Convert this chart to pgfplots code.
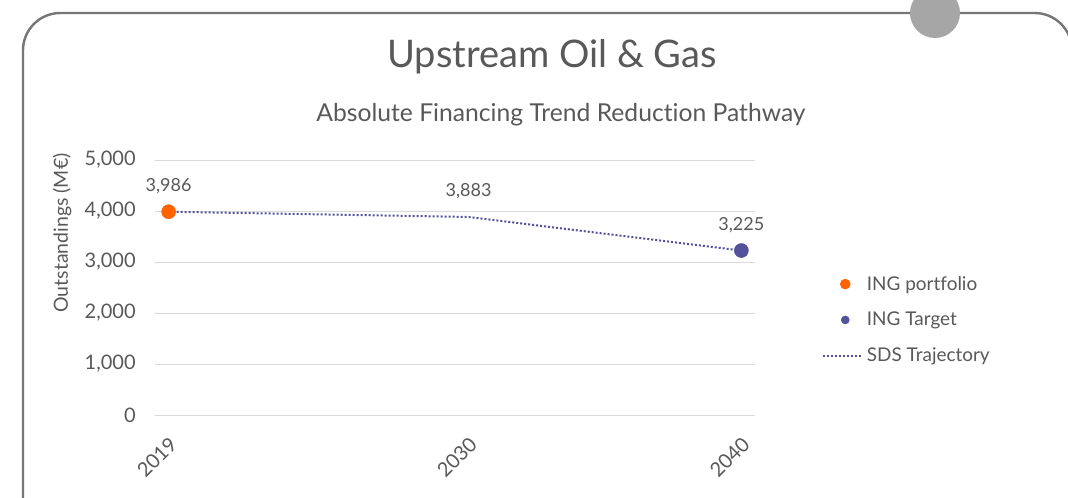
\documentclass[border=0pt]{standalone}
\usepackage{fontspec}
\setmainfont{Lato}[Ligatures={NoCommon}]
\usepackage{pgfplots}
\pgfplotsset{compat=1.18}
\definecolor{txt}{HTML}{595959}
\definecolor{ingorange}{HTML}{FF6200}
\definecolor{ingpurple}{HTML}{525199}
\definecolor{gridc}{HTML}{D9D9D9}
\definecolor{framec}{HTML}{767676}
\definecolor{circc}{HTML}{A6A6A6}
\begin{document}
\begin{tikzpicture}
\begin{scope}[x=0.75pt,y=0.75pt]
\useasboundingbox (0,0) rectangle (1068,497);
\fill[white] (0,0) rectangle (1068,497);
\begin{scope}
\clip (0,0) rectangle (1068,497);
\draw[framec, line width=1.8pt, rounded corners=28pt] (23,-40) |- (1072,484) -- (1072,-40);
\fill[circc] (935,484) circle (25);
\end{scope}
\node[text=txt, font=\fontsize{28.5}{32}\selectfont] at (552,440) {Upstream Oil \& Gas};
\node[text=txt, font=\fontsize{18.5}{22}\selectfont] at (561,382) {Absolute Financing Trend Reduction Pathway};
\node[rotate=90, text=txt, font=\fontsize{14.6}{17}\selectfont] at (62,264) {Outstandings (M€)};
\end{scope}
\begin{axis}[
  scale only axis, width=450pt, height=191.25pt,
  at={(116.25pt,61.5pt)}, anchor=south west,
  xmin=2018.5, xmax=2040.5, ymin=0, ymax=5000,
  axis line style={draw=none}, tick style={draw=none},
  xtick={2019,2030,2040}, xticklabels={2019,2030,2040},
  ytick={0,1000,2000,3000,4000,5000},
  ymajorgrids, major grid style={gridc, line width=0.75pt},
  ticklabel style={font=\fontsize{15}{18}\selectfont, text=txt},
  yticklabel style={/pgf/number format/1000 sep={,}, /pgf/number format/assume math mode=true, xshift=-11pt},
  xticklabel style={xshift=6pt, yshift=-17pt, rotate=45, anchor=east},
  legend style={at={(1.105,0.373)}, anchor=west, draw=none, fill=none,
    font=\fontsize{14.2}{17}\selectfont, text=txt, row sep=11pt},
  legend cell align=left,
  clip=false,
]
\addlegendimage{legend image code/.code={\path (0,0) (30pt,0); \fill[ingorange] (16.5pt,0) circle (3.75pt);}}
\addlegendentry{ING portfolio}
\addlegendimage{legend image code/.code={\path (0,0) (30pt,0); \fill[ingpurple] (16.5pt,0) circle (3pt);}}
\addlegendentry{ING Target}
\addlegendimage{legend image code/.code={\draw[ingpurple, line width=1.5pt, dash pattern=on 1.5pt off 1.5pt] (0,0) -- (30pt,0);}}
\addlegendentry{SDS Trajectory}
\addplot[ingpurple, line width=1.5pt, dash pattern=on 1.5pt off 1.5pt,
  point meta=explicit symbolic, nodes near coords,
  every node near coord/.append style={anchor=center, yshift=19pt, font=\fontsize{13.5}{16}\selectfont, text=txt}] table[meta=lab] {
x y lab
2019 3986 3,986
2030 3883 3,883
2040 3225 3,225
};
\addplot[only marks, mark=*, mark size=5.25pt, ingorange, mark options={draw=none, fill=ingorange}] coordinates {(2019,3986)};
\addplot[only marks, mark=*, mark size=5.25pt, ingpurple, mark options={draw=none, fill=ingpurple}] coordinates {(2040,3225)};
\end{axis}
\end{tikzpicture}
\end{document}
